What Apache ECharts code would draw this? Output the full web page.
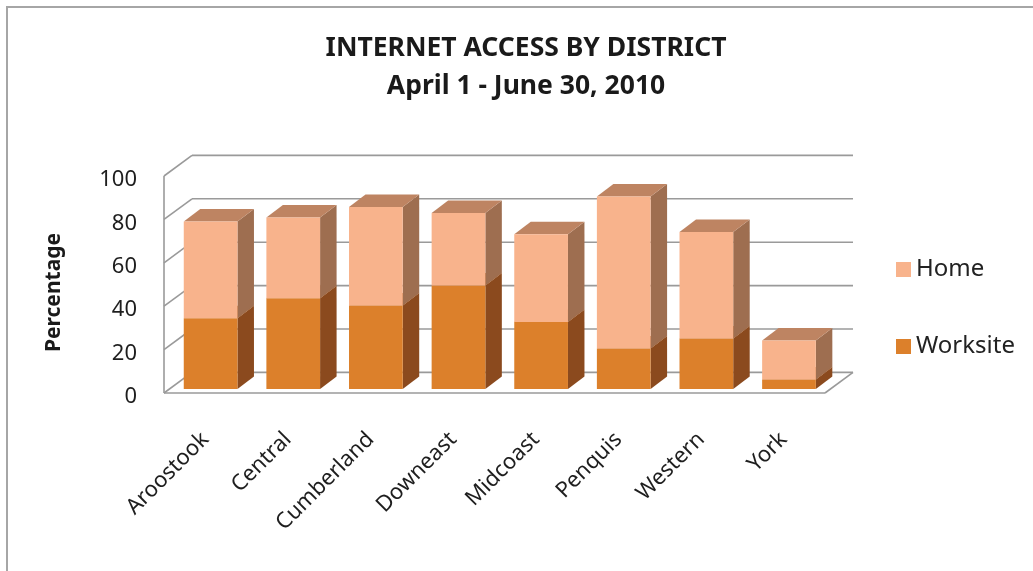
<!DOCTYPE html>
<html>
<head>
<meta charset="utf-8">
<script src="https://cdn.jsdelivr.net/npm/echarts@6/dist/echarts.min.js"></script>
<style>html,body{margin:0;padding:0;background:#fff}#c{width:1033px;height:571px}</style>
</head>
<body>
<div id="c"></div>
<script>
const categories = ['Aroostook','Central','Cumberland','Downeast','Midcoast','Penquis','Western','York'];
const worksite = [32.7, 41.9, 38.5, 47.7, 30.9, 18.7, 23.3, 4.4];
const home = [44.5, 37.2, 45.4, 33.4, 40.5, 70.1, 49.1, 18.0];
const yTicks = [0, 20, 40, 60, 80, 100];

const FONT = "'Noto Sans', 'Open Sans', sans-serif";
// depth geometry (pixels)
const WALL_DX = 28, WALL_DY = -20.6;   // full depth of floor/walls
const AX = 5.3, AY = -3.9;             // bar front face offset from front plane
const BDX = 16.5, BDY = -12.5;         // bar depth

const COLORS = {
  Worksite: {front: '#DC802B', side: '#8B4A1E', top: '#B8682A'},
  Home: {front: '#F8B38C', side: '#9E6E50', top: '#BE8462'}
};

function barRenderer(name) {
  const c = COLORS[name];
  return function (params, api) {
    const i = api.value(0), b = api.value(1), t = api.value(2);
    const p0 = api.coord([i, b]);
    const p1 = api.coord([i, t]);
    const bw = api.size([1, 0])[0] * 0.65;
    const xl = p0[0] - bw / 2 + AX, xr = p0[0] + bw / 2 + AX;
    const yb = p0[1] + AY, yt = p1[1] + AY;
    return {
      type: 'group',
      children: [
        {type: 'polygon', shape: {points: [[xr, yb], [xr + BDX, yb + BDY], [xr + BDX, yt + BDY], [xr, yt]]}, style: {fill: c.side}},
        {type: 'polygon', shape: {points: [[xl, yt], [xr, yt], [xr + BDX, yt + BDY], [xl + BDX, yt + BDY]]}, style: {fill: c.top}},
        {type: 'rect', shape: {x: xl, y: yt, width: bw, height: yb - yt}, style: {fill: c.front}}
      ]
    };
  };
}

function wallRenderer(params, api) {
  const cs = params.coordSys;
  const x0 = cs.x, x1 = cs.x + cs.width;
  const v = api.value(0);
  const y = api.coord([0, v])[1];
  const st = {stroke: '#9A9A9A', lineWidth: 1.6, fill: null};
  const ch = [
    {type: 'line', shape: {x1: x0 + WALL_DX, y1: y + WALL_DY, x2: x1 + WALL_DX, y2: y + WALL_DY}, style: st},
    {type: 'line', shape: {x1: x0, y1: y, x2: x0 + WALL_DX, y2: y + WALL_DY}, style: st}
  ];
  if (v === 0) {
    const yTop = api.coord([0, 100])[1];
    ch.push({type: 'line', shape: {x1: x0, y1: y, x2: x1, y2: y}, style: st});
    ch.push({type: 'line', shape: {x1: x1, y1: y, x2: x1 + WALL_DX, y2: y + WALL_DY}, style: st});
    ch.push({type: 'line', shape: {x1: x0, y1: y, x2: x0, y2: yTop}, style: st});
  }
  return {type: 'group', children: ch};
}

const worksiteData = categories.map((c, i) => [i, 0, worksite[i]]);
const homeData = categories.map((c, i) => [i, worksite[i], worksite[i] + home[i]]);

const chart = echarts.init(document.getElementById('c'));
chart.setOption({
  backgroundColor: '#fff',
  animation: false,
  title: {
    text: 'INTERNET ACCESS BY DISTRICT\nApril 1 - June 30, 2010',
    left: 526,
    textAlign: 'center',
    top: 29,
    padding: 0,
    textStyle: {fontFamily: FONT, fontWeight: 'bold', fontSize: 26.5, lineHeight: 38, color: '#1a1a1a'}
  },
  legend: {
    data: ['Home', 'Worksite'],
    orient: 'vertical',
    left: 891,
    top: 252,
    icon: 'rect',
    itemWidth: 15,
    itemHeight: 15,
    itemGap: 52,
    textStyle: {fontFamily: FONT, fontSize: 24, lineHeight: 25, color: '#222'}
  },
  graphic: [{
    type: 'rect', silent: true,
    shape: {x: 7, y: 7, width: 1100, height: 700},
    style: {fill: null, stroke: '#A6A6A6', lineWidth: 2}
  }],
  grid: {left: 164, right: 208, top: 176, bottom: 178},
  xAxis: {type: 'category', data: categories, axisLine: {show: false}, axisTick: {show: false},
    axisLabel: {interval: 0, rotate: 45, margin: 43, fontFamily: FONT, fontSize: 22, color: '#1e1e1e'}},
  yAxis: {type: 'value', min: 0, max: 100, interval: 20,
    name: 'Percentage', nameLocation: 'middle', nameGap: 99, nameRotate: 90,
    nameTextStyle: {fontFamily: FONT, fontWeight: 'bold', fontSize: 21, color: '#1a1a1a', padding: [0, 16, 0, 0]},
    axisLine: {show: false}, axisTick: {show: false}, splitLine: {show: false},
    axisLabel: {margin: 27, formatter: '{a|{value}}',
      rich: {a: {fontFamily: FONT, fontSize: 22, color: '#1e1e1e', padding: [8, 0, 0, 0]}}}},
  series: [
    {type: 'custom', name: 'walls', z: 1, silent: true,
      renderItem: wallRenderer, data: yTicks.map(v => [v]), encode: {y: 0}},
    {type: 'custom', name: 'Worksite', z: 2,
      itemStyle: {color: COLORS.Worksite.front},
      renderItem: barRenderer('Worksite'), data: worksiteData, encode: {x: 0, y: [1, 2]}},
    {type: 'custom', name: 'Home', z: 3,
      itemStyle: {color: COLORS.Home.front},
      renderItem: barRenderer('Home'), data: homeData, encode: {x: 0, y: [1, 2]}}
  ]
});
</script>
</body>
</html>
